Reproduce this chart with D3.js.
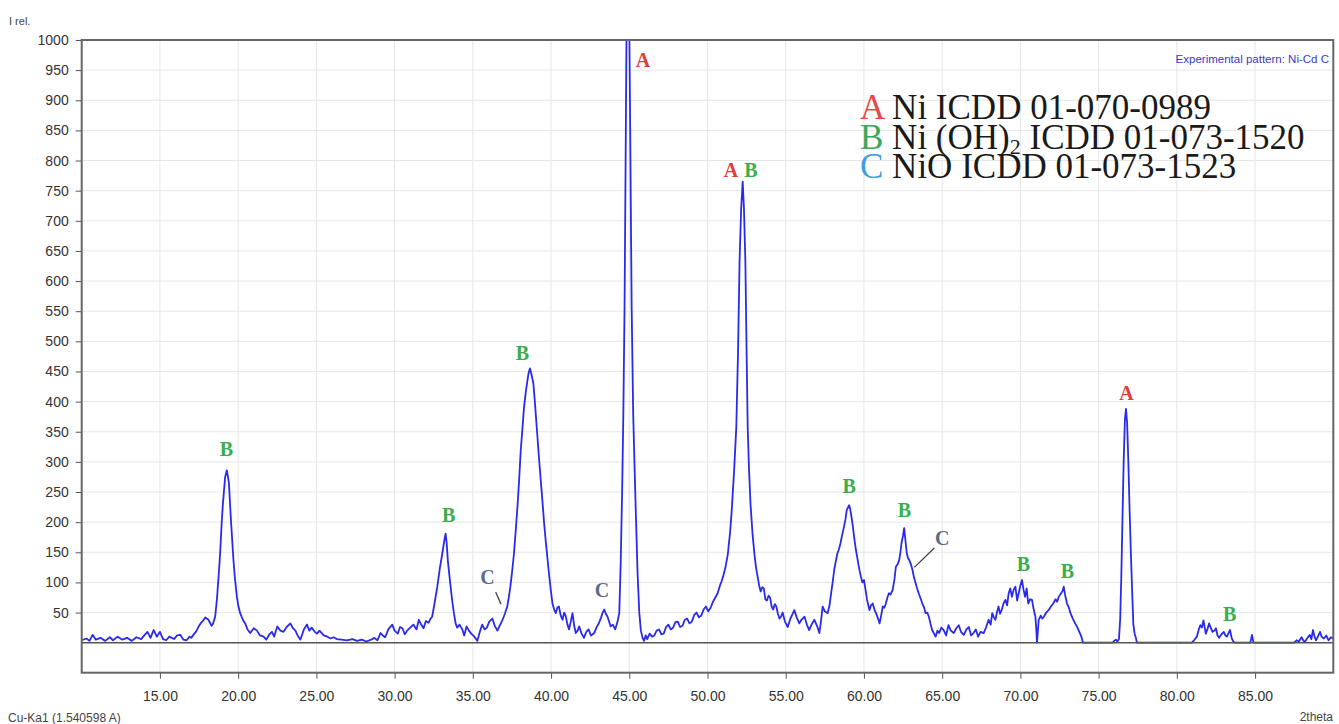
<!DOCTYPE html>
<html>
<head>
<meta charset="utf-8">
<script src="https://cdn.jsdelivr.net/npm/d3@7"></script>
<style>
  body { margin: 0; background: #fff; }
  svg { display: block; }
</style>
</head>
<body>
<div id="xrd"></div>
<script>
// tick values
const twoThetaTicks = [15, 20, 25, 30, 35, 40, 45, 50, 55, 60, 65, 70, 75, 80, 85];
const intensityTicks = [50, 100, 150, 200, 250, 300, 350, 400, 450, 500, 550, 600, 650, 700, 750, 800, 850, 900, 950, 1000];

// measured pattern: [2theta, I rel.]
const scan = [
  [10.0,4],[10.3,7],[10.5,3],[10.7,13],[10.9,5],[11.2,8],[11.5,3],[11.8,9],[12.0,4],[12.3,10],[12.6,5],[12.9,8],
  [13.2,3],[13.5,9],[13.8,6],[14.0,12],[14.2,18],[14.4,8],[14.6,21],[14.8,10],[15.0,18],[15.2,6],[15.4,4],[15.6,10],
  [15.9,6],[16.1,12],[16.3,13],[16.5,5],[16.7,4],[16.9,10],[17.0,8],[17.2,15],[17.3,18],[17.5,28],[17.6,32],[17.8,38],
  [17.9,42],[18.1,38],[18.3,28],[18.4,32],[18.53,43],[18.64,71],[18.75,110],[18.85,149],[18.95,200],[19.03,232],
  [19.17,275],[19.28,286],[19.41,265],[19.54,203],[19.62,170],[19.7,137],[19.8,105],[19.92,76],[20.02,60],[20.13,49],
  [20.3,38],[20.45,32],[20.6,22],[20.77,16],[21.0,24],[21.2,20],[21.4,12],[21.63,10],[21.8,5],[22.0,14],[22.16,18],
  [22.3,10],[22.5,27],[22.7,20],[22.9,18],[23.1,26],[23.34,32],[23.5,24],[23.66,20],[23.8,12],[23.98,5],[24.2,22],
  [24.4,30],[24.55,20],[24.7,25],[24.9,18],[25.04,15],[25.2,20],[25.47,12],[25.7,10],[25.9,7],[26.1,9],[26.3,6],
  [26.6,5],[26.95,4],[27.3,6],[27.6,3],[27.9,5],[28.2,2],[28.5,5],[28.7,8],[28.9,4],[29.1,16],[29.25,12],[29.4,9],
  [29.6,22],[29.85,30],[30.0,20],[30.2,15],[30.35,26],[30.5,24],[30.65,14],[30.8,20],[31.0,25],[31.2,30],[31.4,22],
  [31.55,38],[31.7,30],[31.85,24],[32.0,36],[32.17,33],[32.3,40],[32.4,43],[32.55,65],[32.73,93],[32.9,125],
  [33.05,148],[33.18,170],[33.26,181],[33.33,165],[33.4,137],[33.5,112],[33.58,93],[33.68,70],[33.79,49],[33.9,32],
  [34.0,25],[34.15,30],[34.33,22],[34.45,12],[34.6,27],[34.75,20],[34.9,15],[35.1,10],[35.29,3],[35.45,18],[35.6,30],
  [35.75,22],[35.9,25],[36.05,35],[36.25,40],[36.4,28],[36.57,20],[36.75,30],[36.9,38],[37.05,48],[37.2,60],[37.3,75],
  [37.4,93],[37.52,120],[37.63,148],[37.74,185],[37.85,224],[37.96,270],[38.06,318],[38.17,355],[38.27,390],
  [38.38,415],[38.49,435],[38.57,448],[38.65,455],[38.75,445],[38.87,430],[38.95,405],[39.02,380],[39.12,345],
  [39.23,306],[39.34,270],[39.45,235],[39.55,200],[39.66,169],[39.77,140],[39.87,114],[39.98,88],[40.09,65],[40.2,55],
  [40.3,49],[40.4,58],[40.5,60],[40.62,45],[40.73,38],[40.84,50],[40.94,44],[41.05,30],[41.15,22],[41.26,35],
  [41.37,49],[41.48,28],[41.58,16],[41.7,20],[41.8,27],[41.95,15],[42.1,8],[42.25,18],[42.4,22],[42.55,12],[42.76,16],
  [42.9,25],[43.07,33],[43.2,42],[43.3,50],[43.4,55],[43.5,48],[43.6,44],[43.7,36],[43.81,27],[43.95,30],[44.1,22],
  [44.25,35],[44.36,49],[44.45,130],[44.55,260],[44.62,380],[44.7,560],[44.78,850],[44.86,1150],[44.96,1150],
  [45.06,850],[45.15,560],[45.25,380],[45.33,300],[45.42,215],[45.53,115],[45.64,50],[45.74,20],[45.85,8],[45.94,3],
  [46.05,12],[46.15,6],[46.3,15],[46.45,10],[46.6,12],[46.75,20],[46.9,22],[47.05,14],[47.2,15],[47.35,26],[47.5,30],
  [47.65,22],[47.8,25],[47.95,34],[48.1,35],[48.25,26],[48.4,28],[48.55,38],[48.7,40],[48.85,32],[49.0,35],[49.15,46],
  [49.3,50],[49.45,42],[49.6,45],[49.75,55],[49.9,60],[50.05,52],[50.2,58],[50.35,68],[50.5,75],[50.65,82],[50.8,95],
  [50.9,102],[51.0,110],[51.15,125],[51.3,147],[51.45,185],[51.55,220],[51.7,285],[51.84,357],[51.95,480],[52.05,633],
  [52.15,720],[52.25,765],[52.33,720],[52.42,633],[52.5,480],[52.57,357],[52.65,290],[52.75,230],[52.88,180],
  [53.0,147],[53.1,125],[53.2,110],[53.3,95],[53.4,85],[53.5,92],[53.6,90],[53.7,72],[53.8,70],[53.9,78],[54.0,75],
  [54.1,60],[54.2,55],[54.3,64],[54.4,60],[54.5,48],[54.6,40],[54.7,43],[54.8,50],[54.95,35],[55.13,26],[55.3,40],
  [55.55,54],[55.7,42],[55.87,32],[56.0,38],[56.2,43],[56.35,30],[56.5,21],[56.65,30],[56.83,38],[57.0,28],[57.15,16],
  [57.25,35],[57.36,60],[57.5,52],[57.68,49],[57.8,62],[57.9,82],[58.0,100],[58.1,121],[58.2,135],[58.3,148],
  [58.4,155],[58.5,165],[58.6,178],[58.73,193],[58.82,205],[58.9,220],[59.05,228],[59.12,222],[59.2,209],[59.28,195],
  [59.37,176],[59.48,155],[59.6,137],[59.7,122],[59.8,110],[59.9,100],[60.0,104],[60.1,88],[60.2,71],[60.28,62],
  [60.35,54],[60.45,62],[60.56,65],[60.67,55],[60.77,49],[60.9,40],[61.0,32],[61.1,45],[61.2,60],[61.3,58],[61.4,65],
  [61.5,75],[61.6,82],[61.7,80],[61.83,87],[61.95,105],[62.04,126],[62.15,130],[62.25,137],[62.33,150],[62.4,165],
  [62.5,178],[62.57,190],[62.65,170],[62.74,148],[62.82,140],[62.9,137],[63.0,130],[63.1,121],[63.2,108],[63.3,99],
  [63.4,90],[63.5,82],[63.6,75],[63.73,65],[63.85,58],[63.94,49],[64.05,50],[64.15,43],[64.25,32],[64.36,21],
  [64.48,15],[64.58,10],[64.7,20],[64.8,16],[64.95,25],[65.1,21],[65.25,12],[65.4,29],[65.55,20],[65.74,16],
  [65.9,24],[66.06,29],[66.2,18],[66.38,13],[66.55,22],[66.7,26],[66.85,12],[67.0,16],[67.15,22],[67.3,10],
  [67.45,18],[67.65,16],[67.8,25],[67.97,38],[68.1,30],[68.2,49],[68.3,42],[68.4,38],[68.5,50],[68.6,60],[68.7,48],
  [68.8,54],[68.92,65],[69.04,71],[69.15,62],[69.25,82],[69.35,90],[69.46,76],[69.57,88],[69.68,93],[69.79,70],
  [69.89,82],[70.0,95],[70.1,104],[70.2,88],[70.3,76],[70.4,90],[70.5,65],[70.62,72],[70.74,71],[70.85,55],
  [70.96,43],[71.02,20],[71.06,0],[71.12,20],[71.17,38],[71.3,45],[71.4,40],[71.5,43],[71.65,50],[71.8,54],
  [71.95,60],[72.1,65],[72.25,72],[72.35,68],[72.45,76],[72.6,82],[72.7,86],[72.77,93],[72.85,80],[72.98,65],
  [73.1,58],[73.2,49],[73.35,40],[73.5,32],[73.65,25],[73.8,16],[73.9,10],[74.0,0],[75.0,0],[75.9,0],[76.0,3],
  [76.1,5],[76.2,2],[76.3,6],[76.38,40],[76.45,110],[76.52,200],[76.6,300],[76.68,370],[76.75,388],[76.82,365],
  [76.9,300],[76.98,220],[77.06,150],[77.15,80],[77.22,30],[77.3,15],[77.38,8],[77.45,0],[79.0,0],[80.96,0],
  [81.1,4],[81.28,10],[81.4,22],[81.5,29],[81.6,25],[81.7,37],[81.85,15],[81.95,22],[82.06,32],[82.18,24],
  [82.28,18],[82.4,20],[82.5,24],[82.6,12],[82.7,8],[82.85,14],[83.0,18],[83.1,12],[83.2,10],[83.3,16],[83.4,21],
  [83.5,8],[83.6,2],[83.7,0],[84.7,0],[84.8,13],[84.9,0],[87.5,0],[87.65,4],[87.8,2],[87.97,9],[88.1,3],[88.2,2],
  [88.35,8],[88.5,13],[88.6,6],[88.7,21],[88.8,10],[88.9,4],[89.05,12],[89.15,18],[89.25,10],[89.4,7],[89.55,12],
  [89.7,4],[89.85,9],[90.0,7]
];

// phase letters over the peaks: [letter, 2theta, I rel.]
const peakLabels = [
  ["B", 19.25, 321], ["B", 33.45, 212], ["C", 35.94, 109], ["B", 38.17, 480], ["C", 43.25, 87],
  ["A", 45.87, 966], ["A", 51.5, 784], ["B", 52.78, 784], ["B", 59.05, 260], ["B", 62.58, 220],
  ["C", 65.0, 174], ["B", 70.2, 130], ["B", 73.0, 119], ["A", 76.78, 414], ["B", 83.38, 47]
];

// leader lines for the C shoulders: [2theta1, I1, 2theta2, I2]
const leaders = [
  [36.46, 84, 36.8, 64],
  [63.22, 125, 64.5, 157]
];

const phases = ["A", "B", "C"];
const phaseNames = ["Ni ICDD 01-070-0989", "Ni (OH)|2| ICDD 01-073-1520", "NiO ICDD 01-073-1523"];

const SERIF = "'Liberation Serif', 'Times New Roman', serif";
const SANS = "'Liberation Sans', Arial, sans-serif";

class XrdChart {

  constructor(_data) {
    this.data = _data;
    this.initVis();
  }

  initVis() {
    let vis = this;
    vis.W = 1339;
    vis.H = 724;
    vis.plot = {left: 81.7, right: 1333.3, top: 40, bottom: 672.7};

    vis.svg = d3.select("#xrd").append("svg")
      .attr("width", vis.W)
      .attr("height", vis.H)
      .attr("font-family", SANS);

    vis.xScale = d3.scaleLinear().domain([10, 90]).range([vis.plot.left, vis.plot.right]);
    vis.yScale = d3.scaleLinear().domain([-49.8, 1000]).range([vis.plot.bottom, vis.plot.top]);

    vis.phaseColor = d3.scaleOrdinal().domain(phases).range(["#e23b3b", "#3aae4c", "#5b6b8e"]);
    vis.legendColor = d3.scaleOrdinal().domain(phases).range(["#e84848", "#3ba758", "#3c9ce0"]);

    // grid
    let grid = vis.svg.append("g").attr("class", "grid");
    grid.selectAll(".gx").data(twoThetaTicks).enter().append("line")
      .attr("x1", d => vis.xScale(d)).attr("x2", d => vis.xScale(d))
      .attr("y1", vis.plot.top).attr("y2", vis.plot.bottom)
      .attr("stroke", "#e6e6e6");
    grid.selectAll(".gy").data(intensityTicks).enter().append("line")
      .attr("x1", vis.plot.left).attr("x2", vis.plot.right)
      .attr("y1", d => vis.yScale(d)).attr("y2", d => vis.yScale(d))
      .attr("stroke", "#e6e6e6");

    // axes
    vis.xAxis = vis.svg.append("g")
      .attr("transform", "translate(0," + vis.plot.bottom + ")")
      .call(d3.axisBottom(vis.xScale).tickValues(twoThetaTicks).tickFormat(d3.format(".2f")).tickSize(6).tickPadding(12));
    vis.yAxis = vis.svg.append("g")
      .attr("transform", "translate(" + vis.plot.left + ",0)")
      .call(d3.axisLeft(vis.yScale).tickValues(intensityTicks).tickFormat(d3.format("d")).tickSize(6).tickPadding(7));
    [vis.xAxis, vis.yAxis].forEach(a => {
      a.attr("font-family", SANS).attr("font-size", 14);
      a.select(".domain").remove();
      a.selectAll("line").attr("stroke", "#555");
      a.selectAll("text").attr("fill", "#333");
    });

    vis.svg.append("defs").append("clipPath").attr("id", "plotClip")
      .append("rect")
      .attr("x", vis.plot.left).attr("y", vis.plot.top)
      .attr("width", vis.plot.right - vis.plot.left).attr("height", vis.plot.bottom - vis.plot.top);

    // texts round the frame
    vis.svg.append("text").attr("x", 9).attr("y", 25).text("I rel.")
      .attr("font-size", 11).attr("fill", "#444");
    vis.svg.append("text").attr("x", 8).attr("y", 722).text("Cu-Ka1 (1.540598 A)")
      .attr("font-size", 12).attr("fill", "#444");
    vis.svg.append("text").attr("x", 1333).attr("y", 721).attr("text-anchor", "end").text("2theta")
      .attr("font-size", 12).attr("fill", "#444");
    vis.svg.append("text").attr("x", 1329).attr("y", 63).attr("text-anchor", "end")
      .text("Experimental pattern: Ni-Cd C")
      .attr("font-size", 11.5).attr("fill", "#3a3ac8");
  }

  updateVis() {
    let vis = this;

    let line = d3.line()
      .x(d => vis.xScale(d[0]))
      .y(d => vis.yScale(d[1]));

    vis.svg.append("path")
      .datum(vis.data)
      .attr("clip-path", "url(#plotClip)")
      .attr("d", line)
      .attr("fill", "none")
      .attr("stroke", "#2a2aec")
      .attr("stroke-width", 1.8)
      .attr("stroke-linejoin", "round");

    // zero line
    vis.svg.append("line")
      .attr("x1", vis.plot.left).attr("x2", vis.plot.right)
      .attr("y1", vis.yScale(0)).attr("y2", vis.yScale(0))
      .attr("stroke", "#555").attr("stroke-width", 1.4);

    // frame
    vis.svg.append("rect")
      .attr("x", vis.plot.left).attr("y", vis.plot.top)
      .attr("width", vis.plot.right - vis.plot.left).attr("height", vis.plot.bottom - vis.plot.top)
      .attr("fill", "none").attr("stroke", "#666").attr("stroke-width", 2);

    // leaders
    vis.svg.append("g").selectAll("line").data(leaders).enter().append("line")
      .attr("x1", d => vis.xScale(d[0])).attr("y1", d => vis.yScale(d[1]))
      .attr("x2", d => vis.xScale(d[2])).attr("y2", d => vis.yScale(d[3]))
      .attr("stroke", "#444").attr("stroke-width", 1.3);

    // peak letters
    vis.svg.append("g").selectAll("text").data(peakLabels).enter().append("text")
      .attr("x", d => vis.xScale(d[1]))
      .attr("y", d => vis.yScale(d[2]))
      .attr("dy", "0.35em")
      .attr("text-anchor", "middle")
      .attr("fill", d => vis.phaseColor(d[0]))
      .attr("font-family", SERIF)
      .attr("font-weight", "bold")
      .attr("font-size", 20)
      .text(d => d[0]);

    // legend, three tightly stacked rows
    phases.forEach((p, i) => {
      let t = vis.svg.append("text")
        .attr("x", 860).attr("y", 119 + i * 29.5)
        .attr("font-family", SERIF)
        .attr("font-size", 35);
      t.append("tspan").attr("fill", vis.legendColor(p)).text(p + " ");
      // "|2|" marks a subscript
      phaseNames[i].split("|").forEach((part, j) => {
        let s = t.append("tspan").attr("fill", "#1a1a1a").text(part);
        if (j % 2 === 1) s.attr("font-size", 22).attr("dy", 5);
        if (j > 1 && j % 2 === 0) s.attr("dy", -5);
      });
    });
  }
}

let chart = new XrdChart(scan);
chart.updateVis();
</script>
</body>
</html>
